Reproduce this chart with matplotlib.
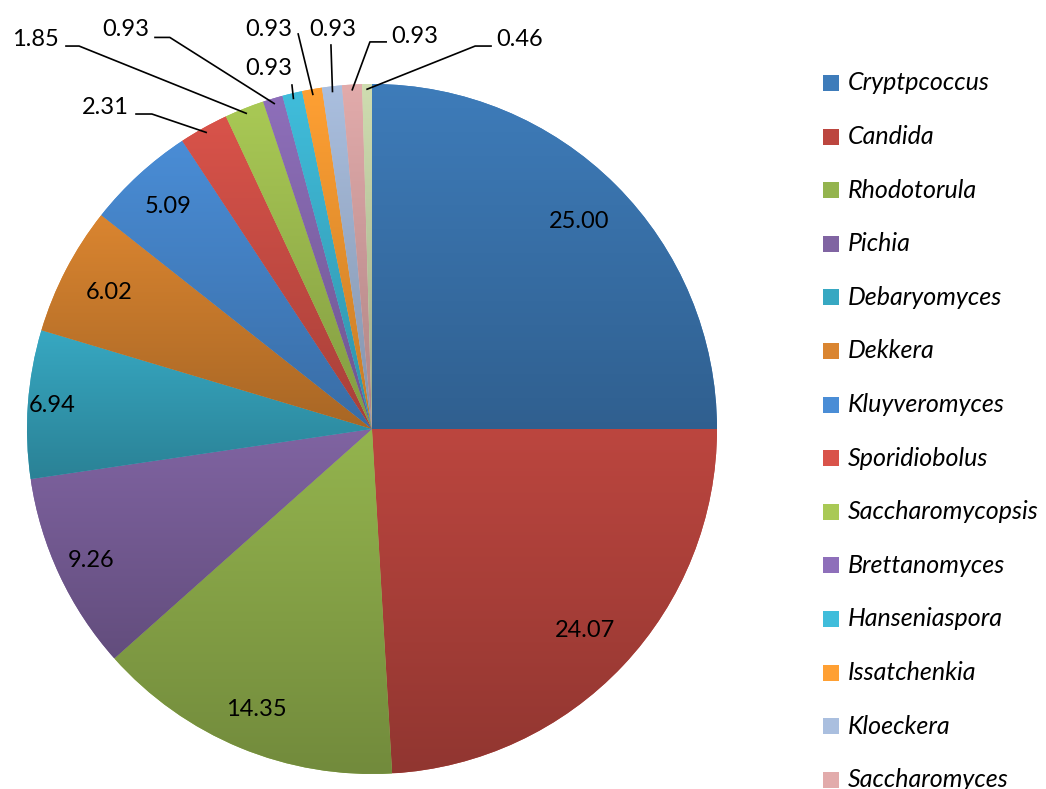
import matplotlib
matplotlib.use('Agg')
import matplotlib.pyplot as plt
from matplotlib.colors import to_rgb
from matplotlib.patches import Rectangle
import numpy as np

# 数据
genus = ['Cryptpcoccus', 'Candida', 'Rhodotorula', 'Pichia', 'Debaryomyces',
         'Dekkera', 'Kluyveromyces', 'Sporidiobolus', 'Saccharomycopsis',
         'Brettanomyces', 'Hanseniaspora', 'Issatchenkia', 'Kloeckera',
         'Saccharomyces', 'Others']
percent = [25.00, 24.07, 14.35, 9.26, 6.94, 6.02, 5.09, 2.31, 1.85,
           0.93, 0.93, 0.93, 0.93, 0.93, 0.46]
colors = ['#3E7CBA', '#BC463F', '#94B44E', '#8064A2', '#37A8C2', '#DA8530',
          '#4A8DD6', '#D9534A', '#A9C955', '#8E6FBA', '#40BDDB', '#FFA033',
          '#AABFDF', '#E2ABAB', '#CFDDB0']

plt.rcParams['font.family'] = ['Lato', 'DejaVu Sans']

W, H = 1046, 789
fig = plt.figure(figsize=(W / 100, H / 100), dpi=100)
fig.patch.set_facecolor('white')

# 饼图区域 (圆心约在 372,429 像素, 半径 345)
cx, cy, R = 372, 429, 345
ax = fig.add_axes([(cx - R) / W, (H - cy - R) / H, 2 * R / W, 2 * R / H])

wedges, _ = ax.pie(percent, colors=colors, startangle=90, counterclock=False,
                   radius=1, wedgeprops=dict(linewidth=0))

# 每块做上亮下暗的渐变
grad = np.linspace(0, 1, 256).reshape(-1, 1, 1)
for w, c in zip(wedges, colors):
    top = np.array(to_rgb(c))
    bottom = top * 0.77
    img = top * (1 - grad) + bottom * grad
    ext = w.get_path().get_extents()
    im = ax.imshow(img, extent=[ext.x0, ext.x1, ext.y0, ext.y1], origin='upper',
                   aspect='auto', zorder=w.get_zorder() + 0.1, interpolation='bilinear')
    im.set_clip_path(w)

ax.set_xlim(-1, 1)
ax.set_ylim(-1, 1)
ax.set_aspect('equal')
ax.axis('off')

# 角度
cum = np.concatenate([[0], np.cumsum(percent)])
mid_ang = np.deg2rad(90 - 3.6 * (cum[:-1] + cum[1:]) / 2)

# 大块: 内部标签
inner_r = [0.85, 0.85, 0.88, 0.90, 0.93, 0.86, 0.875]
for i, r in enumerate(inner_r):
    ax.text(r * np.cos(mid_ang[i]), r * np.sin(mid_ang[i]), '%.2f' % percent[i],
            ha='center', va='center', fontsize=17, color='black')

# 小块: 外部标签 + 引线  (文字位置, 引线起点, 拐点)
outer = {
    7: ((-0.774, 0.933), (-0.684, 0.913), (-0.638, 0.913)),
    8: ((-0.977, 1.130), (-0.887, 1.110), (-0.849, 1.110)),
    9: ((-0.713, 1.159), (-0.629, 1.135), (-0.586, 1.135)),
    10: ((-0.299, 1.046), (-0.232, 0.997), None),
    11: ((-0.299, 1.159), (-0.214, 1.145), None),
    12: ((-0.113, 1.159), (-0.119, 1.113), None),
    13: ((0.125, 1.139), (0.041, 1.122), (-0.006, 1.122)),
    14: ((0.429, 1.130), (0.345, 1.110), (0.299, 1.110)),
}
for i, (tpos, start, elbow) in outer.items():
    ax.text(tpos[0], tpos[1], '%.2f' % percent[i], ha='center', va='center',
            fontsize=17, color='black')
    ax_pt = (0.985 * np.cos(mid_ang[i]), 0.985 * np.sin(mid_ang[i]))
    pts = [start] + ([elbow] if elbow else []) + [ax_pt]
    xs, ys = zip(*pts)
    ax.plot(xs, ys, color='black', lw=1.2, clip_on=False, zorder=5)

# 图例 (最后一项超出画布)
leg_x, leg_y0, leg_dy = 823, 83, 53.6
for i, (g, c) in enumerate(zip(genus, colors)):
    y = leg_y0 + i * leg_dy
    fig.patches.append(Rectangle((leg_x / W, (H - y - 8) / H), 16 / W, 16 / H,
                                 transform=fig.transFigure, facecolor=c,
                                 edgecolor='none'))
    fig.text((leg_x + 25) / W, (H - y) / H, g, ha='left', va='center',
             fontsize=18, style='italic', color='black')

fig.savefig('out.png', dpi=100)
plt.close(fig)
